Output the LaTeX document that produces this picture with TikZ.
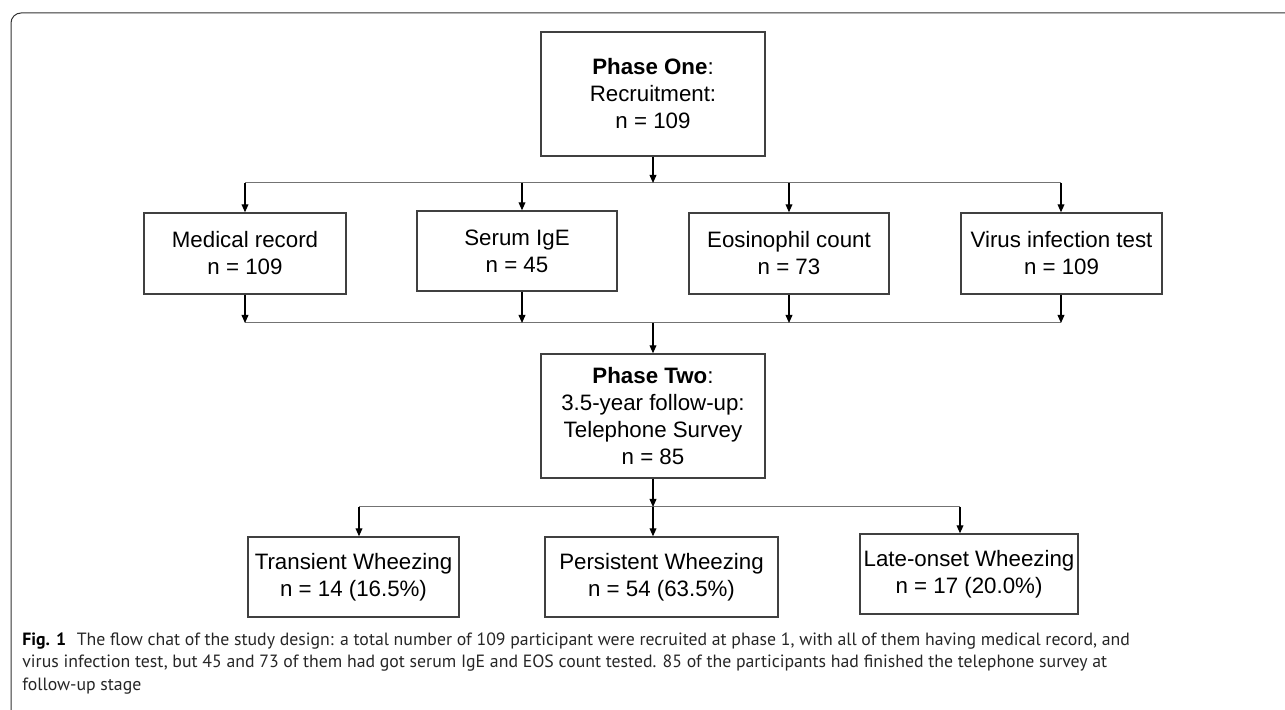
\documentclass[tikz,border=0pt]{standalone}
\usepackage{fontspec}
\setmainfont{Liberation Sans}
\newfontfamily\capfont{PT Sans}
\usetikzlibrary{arrows.meta}

\begin{document}
\begin{tikzpicture}[x=0.5pt,y=-0.5pt,
	box/.style={draw=black!75, line width=0.7pt, align=center, inner sep=0pt,
		font=\fontsize{11.15}{13.5}\selectfont},
	pile/.style={->, >={Triangle[length=4pt,width=3.4pt]}, line width=0.6pt},
	bus/.style={black!55, line width=0.5pt},
	capt/.style={align=left, inner sep=0pt, text=black!85}]

	\useasboundingbox (0,0) rectangle (1285,710);

	% frame
	\draw[black!80, line width=0.5pt, rounded corners=5pt] (11,710) -- (11,13) -- (1285,13);

	% Phase one
	\node[box, minimum width=112pt, minimum height=62pt] (p1) at (653,94)
		{\textbf{Phase One}:\\Recruitment:\\n = 109};

	% Tests
	\node[box, minimum width=101pt, minimum height=40.5pt] (med) at (245,253.5) {Medical record\\n = 109};
	\node[box, minimum width=100pt, minimum height=40pt] (ige) at (517,251) {Serum IgE\\n = 45};
	\node[box, minimum width=100pt, minimum height=40.5pt] (eos) at (789,253.5) {Eosinophil count\\n = 73};
	\node[box, minimum width=100.5pt, minimum height=40.5pt] (vir) at (1061.5,253.5) {Virus infection test\\n = 109};

	% Phase two
	\node[box, minimum width=112pt, minimum height=62pt] (p2) at (653,416)
		{\textbf{Phase Two}:\\3.5-year follow-up:\\Telephone Survey\\n = 85};

	% Outcomes
	\node[box, minimum width=105.5pt, minimum height=40pt] (tw) at (353.5,577) {Transient Wheezing\\n = 14 (16.5\%)};
	\node[box, minimum width=116.5pt, minimum height=40pt] (pw) at (661.5,577) {Persistent Wheezing\\n = 54 (63.5\%)};
	\node[box, minimum width=109pt, minimum height=40pt] (lw) at (969,574) {Late-onset Wheezing\\n = 17 (20.0\%)};

	% taps on the buses
	\coordinate (a0) at (653,183);
	\coordinate (a1) at (245,183);
	\coordinate (a2) at (522,183);
	\coordinate (a3) at (789,183);
	\coordinate (a4) at (1061,183);
	\coordinate (b0) at (653,323);
	\coordinate (c0) at (653,507);
	\coordinate (c1) at (359,507);
	\coordinate (c3) at (960,507);

	% first split
	\draw[bus] (a1) -- (a4);
	\draw[pile] (p1) -- (a0);
	\foreach \t/\n in {a1/med, a2/ige, a3/eos, a4/vir}
		\draw[pile] (\t) -- (\t |- \n.north);

	% merge
	\draw[bus] (a1 |- b0) -- (a4 |- b0);
	\foreach \t/\n in {a1/med, a2/ige, a3/eos, a4/vir}
		\draw[pile] (\t |- \n.south) -- (\t |- b0);
	\draw[pile] (b0) -- (p2);

	% second split
	\draw[bus] (c1) -- (c3);
	\draw[pile] (p2) -- (c0);
	\foreach \t/\n in {c1/tw, c0/pw, c3/lw}
		\draw[pile] (\t) -- (\t |- \n.north);

	% caption
	\node[capt, anchor=north west, scale=1.07, transform shape,
		font=\capfont\fontsize{8.3}{10.6}\selectfont] (cap) at (22,632)
		{{\color{black}\textbf{Fig. 1}}\hspace{0.6em}The flow chat of the study design: a total number of 109 participant were recruited at phase 1, with all of them having medical record, and\\
		virus infection test, but 45 and 73 of them had got serum IgE and EOS count tested. 85 of the participants had finished the telephone survey at\\
		follow-up stage};

\end{tikzpicture}
\end{document}
